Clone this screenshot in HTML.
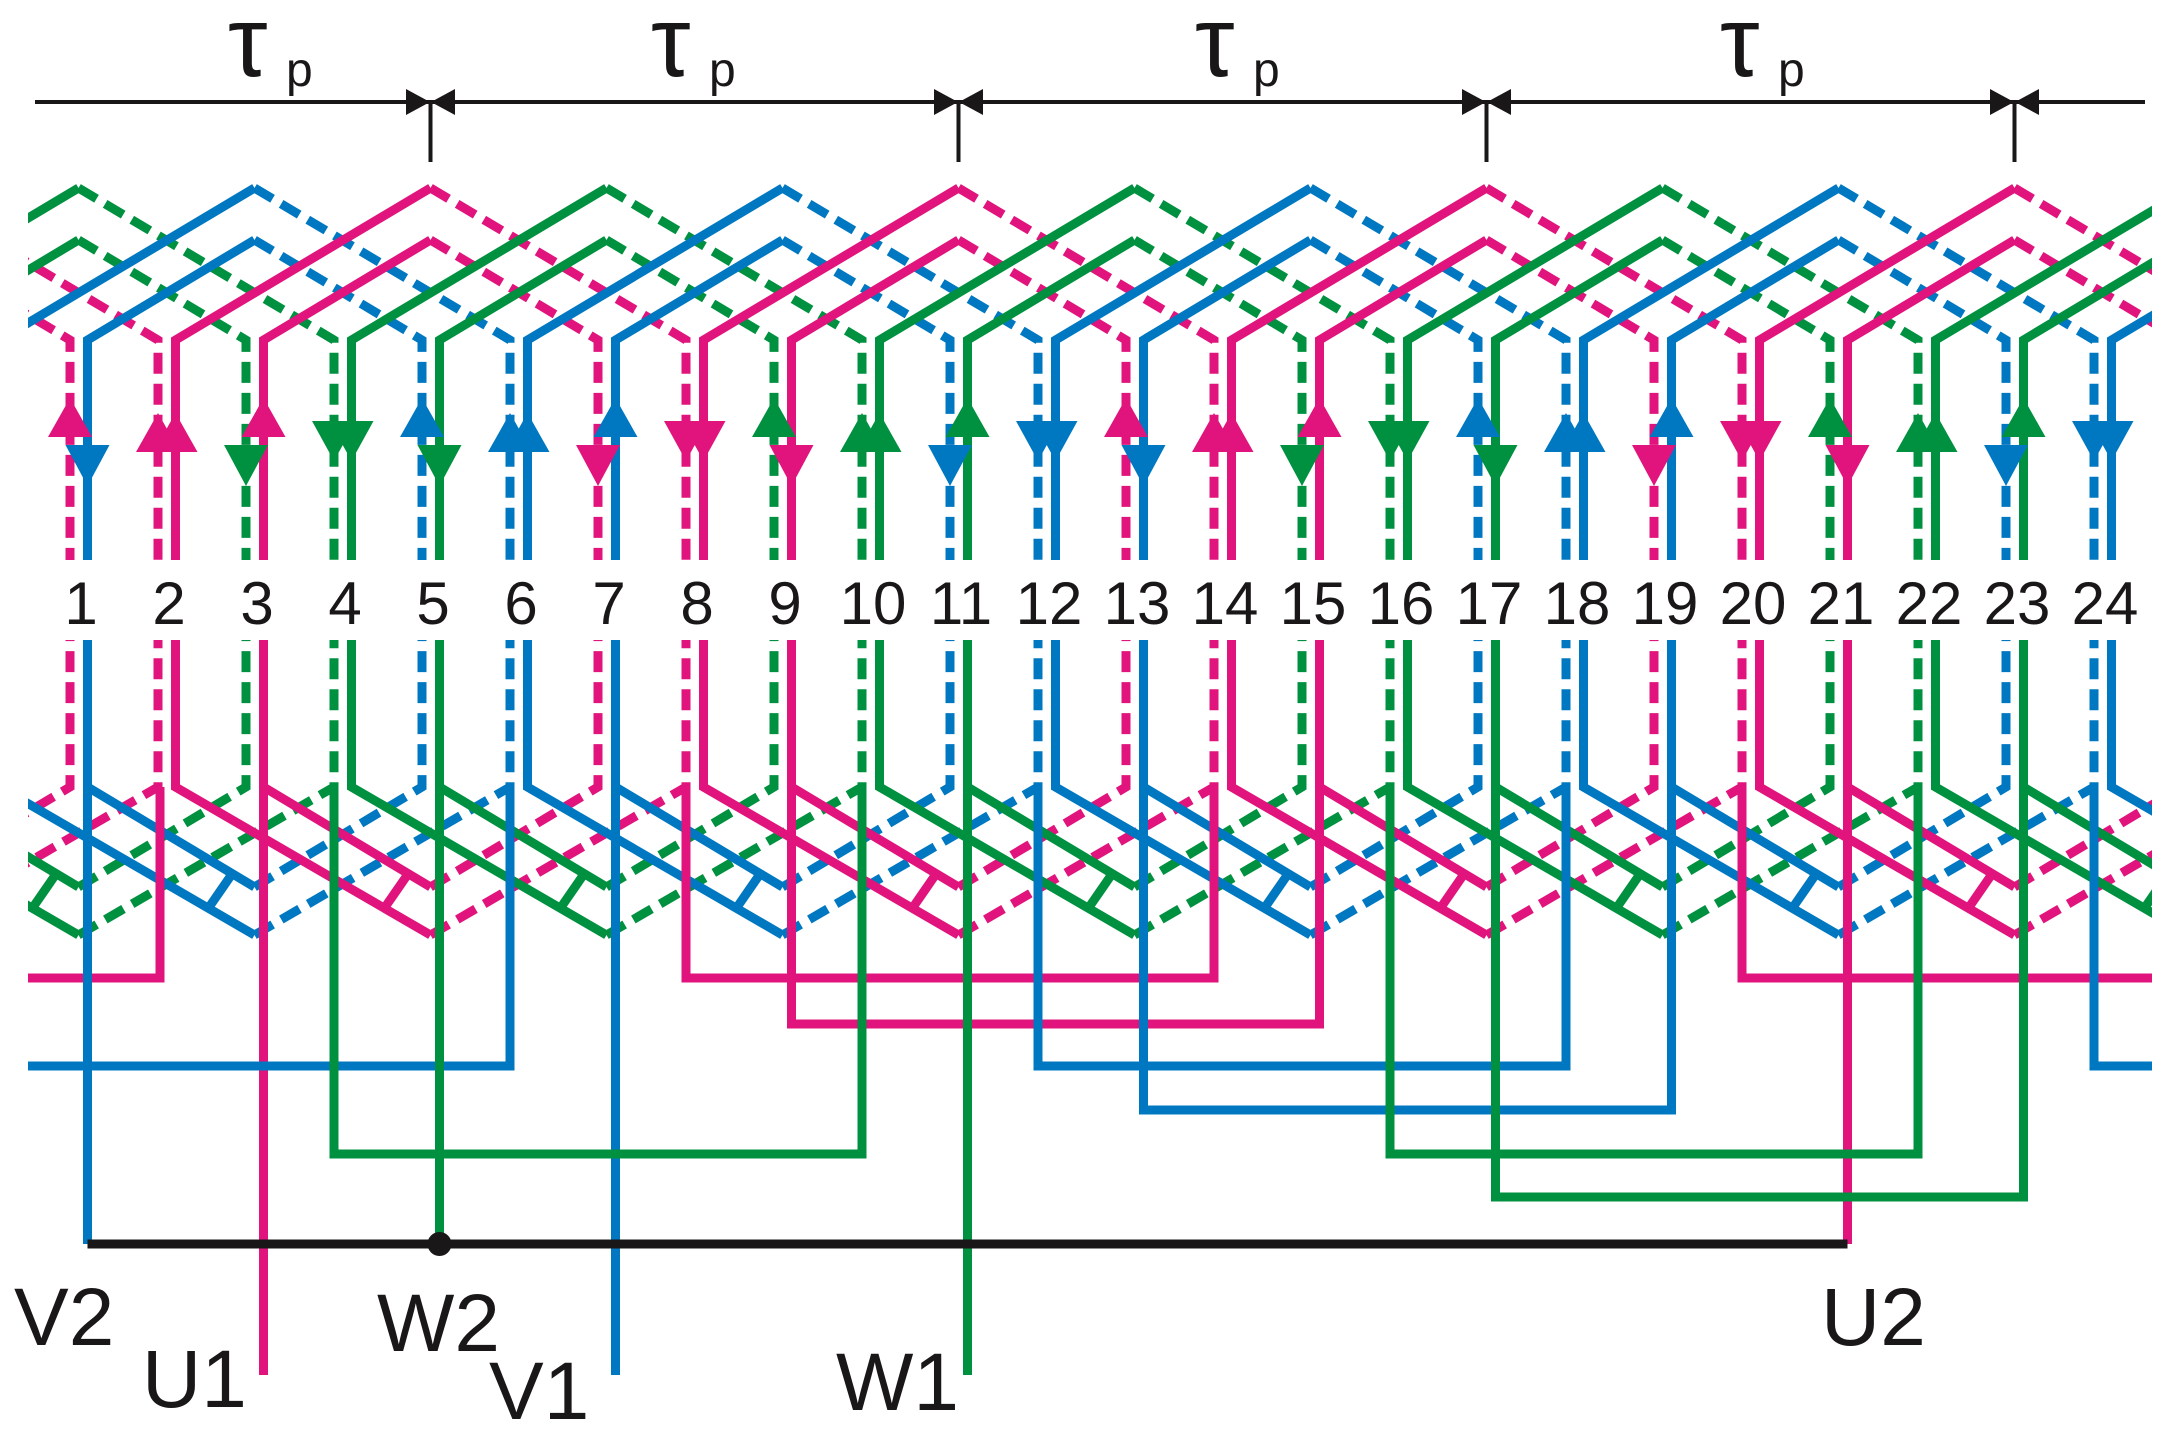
<!DOCTYPE html>
<html><head><meta charset="utf-8"><style>
html,body{margin:0;padding:0;background:#fff;}
svg{display:block;}
text{font-family:"Liberation Sans",sans-serif;fill:#1a1718;}
</style></head><body>
<svg width="2176" height="1437" viewBox="0 0 2176 1437" xmlns="http://www.w3.org/2000/svg">
<defs>
<clipPath id="cp"><rect x="28" y="0" width="2124" height="1437"/></clipPath>
<g id="grp" fill="none" stroke="currentColor" stroke-width="9" stroke-linejoin="miter">
  <path d="M-264.5,560 V340 L-9.5,188 M-176.5,560 V340 L-9.5,240 M-264.5,640 V787 L-9.5,935 M-176.5,640 V787 L-9.5,887 M-55.5,908 L-32,874"/>
  <path stroke-dasharray="21 10" d="M-9.5,188 L246,340 V560 M-9.5,240 L158,340 V560 M-9.5,935 L246,787 V640 M-9.5,887 L158,787 V640"/>
</g>
<polygon id="uO" points="0,398 -22,437 22,437" fill="currentColor"/>
<polygon id="dO" points="0,486 -22,445 22,445" fill="currentColor"/>
<polygon id="uS" points="0,413 -22,452 22,452" fill="currentColor"/>
<polygon id="dS" points="0,461 -22,421 22,421" fill="currentColor"/>
</defs>

<g stroke="#1a1718" stroke-width="4" fill="none">
<path d="M35,102 H2145 M430.5,102 V162 M958.5,102 V162 M1486.5,102 V162 M2014.5,102 V162"/>
</g>
<g fill="#1a1718">
<polygon points="406,89 406,115 430,102"/><polygon points="455,89 455,115 431,102"/>
<polygon points="934,89 934,115 958,102"/><polygon points="983,89 983,115 959,102"/>
<polygon points="1462,89 1462,115 1486,102"/><polygon points="1511,89 1511,115 1487,102"/>
<polygon points="1990,89 1990,115 2014,102"/><polygon points="2039,89 2039,115 2015,102"/>
</g>
<text x="228" y="76" font-size="100">τ</text><text x="286" y="86" font-size="48">p</text>
<text x="651" y="76" font-size="100">τ</text><text x="709" y="86" font-size="48">p</text>
<text x="1195" y="76" font-size="100">τ</text><text x="1253" y="86" font-size="48">p</text>
<text x="1720" y="76" font-size="100">τ</text><text x="1778" y="86" font-size="48">p</text>

<g clip-path="url(#cp)">
<use href="#grp" x="-88" style="color:#E0147C"/>
<use href="#grp" x="88" style="color:#009140"/>
<use href="#grp" x="264" style="color:#0078C1"/>
<use href="#grp" x="440" style="color:#E0147C"/>
<use href="#grp" x="616" style="color:#009140"/>
<use href="#grp" x="792" style="color:#0078C1"/>
<use href="#grp" x="968" style="color:#E0147C"/>
<use href="#grp" x="1144" style="color:#009140"/>
<use href="#grp" x="1320" style="color:#0078C1"/>
<use href="#grp" x="1496" style="color:#E0147C"/>
<use href="#grp" x="1672" style="color:#009140"/>
<use href="#grp" x="1848" style="color:#0078C1"/>
<use href="#grp" x="2024" style="color:#E0147C"/>
<use href="#grp" x="2200" style="color:#009140"/>
<use href="#grp" x="2376" style="color:#0078C1"/>

<g fill="none" stroke-width="9">
<path stroke="#E0147C" d="M160,787 V978 H28 M263.5,787 V1375 M686,787 V978 H1214 V787 M791.5,787 V1024 H1319.5 V787 M1742,787 V978 H2152 M1847.5,787 V1244"/>
<path stroke="#0078C1" d="M87.5,787 V1244 M510,787 V1066 H28 M615.5,787 V1375 M1038,787 V1066 H1566 V787 M1143.5,787 V1110 H1671.5 V787 M2094,787 V1066 H2152"/>
<path stroke="#009140" d="M334,787 V1154 H862 V787 M439.5,787 V1244 M967.5,787 V1375 M1390,787 V1154 H1918 V787 M1495.5,787 V1197 H2023.5 V787"/>
<path stroke="#1a1718" d="M87.5,1244 H1847.5"/>
</g>
<circle cx="439.5" cy="1244" r="12" fill="#1a1718"/>
</g>

<g>
<use href="#uO" x="70" style="color:#E0147C"/><use href="#dO" x="87.5" style="color:#0078C1"/>
<use href="#uS" x="158" style="color:#E0147C"/><use href="#uS" x="175.5" style="color:#E0147C"/>
<use href="#dO" x="246" style="color:#009140"/><use href="#uO" x="263.5" style="color:#E0147C"/>
<use href="#dS" x="334" style="color:#009140"/><use href="#dS" x="351.5" style="color:#009140"/>
<use href="#uO" x="422" style="color:#0078C1"/><use href="#dO" x="439.5" style="color:#009140"/>
<use href="#uS" x="510" style="color:#0078C1"/><use href="#uS" x="527.5" style="color:#0078C1"/>
<use href="#dO" x="598" style="color:#E0147C"/><use href="#uO" x="615.5" style="color:#0078C1"/>
<use href="#dS" x="686" style="color:#E0147C"/><use href="#dS" x="703.5" style="color:#E0147C"/>
<use href="#uO" x="774" style="color:#009140"/><use href="#dO" x="791.5" style="color:#E0147C"/>
<use href="#uS" x="862" style="color:#009140"/><use href="#uS" x="879.5" style="color:#009140"/>
<use href="#dO" x="950" style="color:#0078C1"/><use href="#uO" x="967.5" style="color:#009140"/>
<use href="#dS" x="1038" style="color:#0078C1"/><use href="#dS" x="1055.5" style="color:#0078C1"/>
<use href="#uO" x="1126" style="color:#E0147C"/><use href="#dO" x="1143.5" style="color:#0078C1"/>
<use href="#uS" x="1214" style="color:#E0147C"/><use href="#uS" x="1231.5" style="color:#E0147C"/>
<use href="#dO" x="1302" style="color:#009140"/><use href="#uO" x="1319.5" style="color:#E0147C"/>
<use href="#dS" x="1390" style="color:#009140"/><use href="#dS" x="1407.5" style="color:#009140"/>
<use href="#uO" x="1478" style="color:#0078C1"/><use href="#dO" x="1495.5" style="color:#009140"/>
<use href="#uS" x="1566" style="color:#0078C1"/><use href="#uS" x="1583.5" style="color:#0078C1"/>
<use href="#dO" x="1654" style="color:#E0147C"/><use href="#uO" x="1671.5" style="color:#0078C1"/>
<use href="#dS" x="1742" style="color:#E0147C"/><use href="#dS" x="1759.5" style="color:#E0147C"/>
<use href="#uO" x="1830" style="color:#009140"/><use href="#dO" x="1847.5" style="color:#E0147C"/>
<use href="#uS" x="1918" style="color:#009140"/><use href="#uS" x="1935.5" style="color:#009140"/>
<use href="#dO" x="2006" style="color:#0078C1"/><use href="#uO" x="2023.5" style="color:#009140"/>
<use href="#dS" x="2094" style="color:#0078C1"/><use href="#dS" x="2111.5" style="color:#0078C1"/>
</g>

<g font-size="60" text-anchor="middle">
<text x="81" y="624">1</text><text x="169" y="624">2</text><text x="257" y="624">3</text><text x="345" y="624">4</text>
<text x="433" y="624">5</text><text x="521" y="624">6</text><text x="609" y="624">7</text><text x="697" y="624">8</text>
<text x="785" y="624">9</text><text x="873" y="624">10</text><text x="961" y="624">11</text><text x="1049" y="624">12</text>
<text x="1137" y="624">13</text><text x="1225" y="624">14</text><text x="1313" y="624">15</text><text x="1401" y="624">16</text>
<text x="1489" y="624">17</text><text x="1577" y="624">18</text><text x="1665" y="624">19</text><text x="1753" y="624">20</text>
<text x="1841" y="624">21</text><text x="1929" y="624">22</text><text x="2017" y="624">23</text><text x="2105" y="624">24</text>
</g>

<g font-size="82">
<text x="14" y="1345">V2</text>
<text x="142" y="1407">U1</text>
<text x="377" y="1351">W2</text>
<text x="489" y="1419">V1</text>
<text x="836" y="1410">W1</text>
<text x="1821" y="1345">U2</text>
</g>
</svg>
</body></html>
